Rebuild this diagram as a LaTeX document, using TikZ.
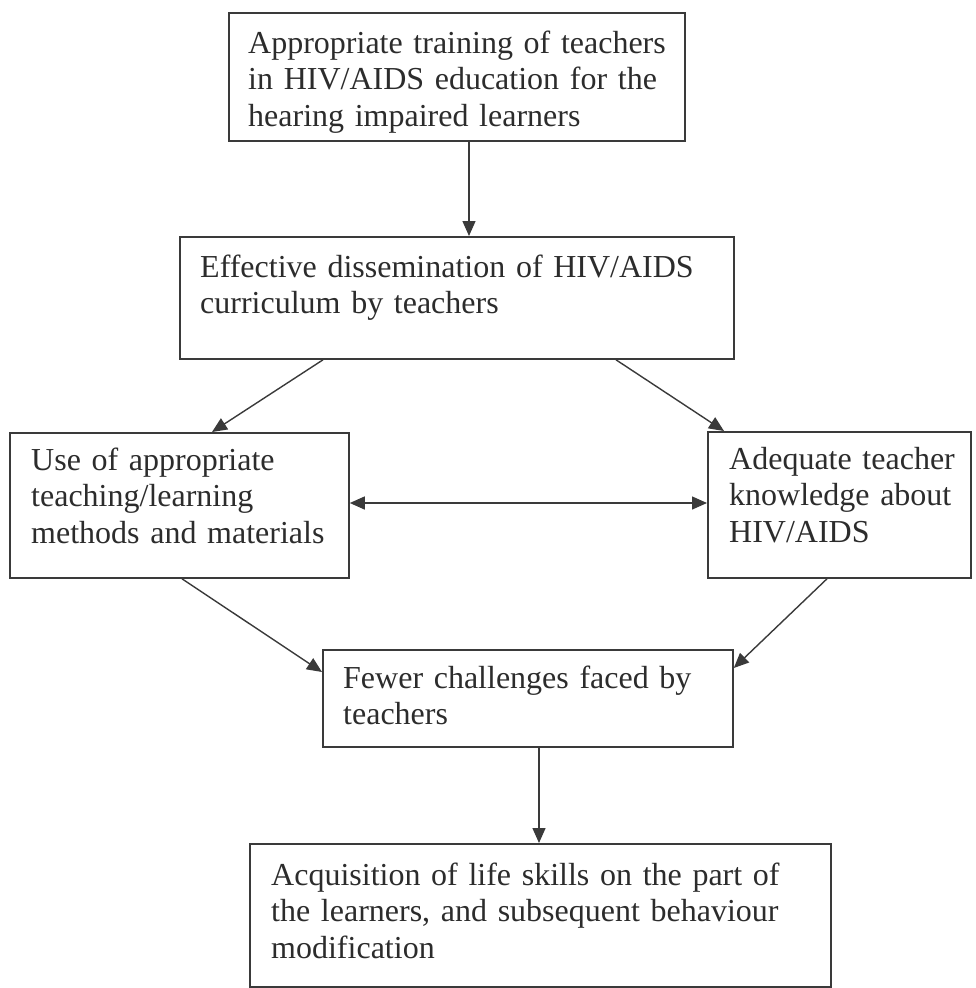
\documentclass[tikz,border=0pt]{standalone}
\usepackage{fontspec}
\setmainfont{Liberation Serif}[WordSpace=0.8]
\usetikzlibrary{arrows.meta,calc}
\definecolor{ink}{HTML}{2C2C2C}
\definecolor{linec}{HTML}{3A3A3A}
\begin{document}
\begin{tikzpicture}[x=1pt,y=-1pt,
  box/.style={draw=linec, line width=1.8pt, rectangle, inner sep=0pt, anchor=north west},
  txt/.style={anchor=base west, inner sep=0pt, text width=620pt, align=left, text=ink, font=\fontsize{32}{36.6}\selectfont},
  arr/.style={draw=linec, line width=1.4pt, -{Triangle[length=15pt,width=13pt]}},
  darr/.style={draw=linec, line width=1.4pt, {Triangle[length=15pt,width=13pt]}-{Triangle[length=15pt,width=13pt]}}]
\useasboundingbox (0,0) rectangle (975,988);
% boxes
\node[box, minimum width=456pt, minimum height=128pt] (b1) at (228,12) {};
\node[box, minimum width=554pt, minimum height=122pt] (b2) at (179,236) {};
\node[box, minimum width=339pt, minimum height=145pt] (b3) at (9,432) {};
\node[box, minimum width=263pt, minimum height=146pt] (b4) at (707,431) {};
\node[box, minimum width=410pt, minimum height=97pt] (b5) at (322,649) {};
\node[box, minimum width=581pt, minimum height=143pt] (b6) at (249,843) {};
% texts
\node[txt] (t1) at ([xshift=20pt,yshift=-41pt]b1.north west) {Appropriate training of teachers\\in HIV/AIDS education for the\\hearing impaired learners};
\node[txt] (t2) at ([xshift=21pt,yshift=-41pt]b2.north west) {Effective dissemination of HIV/AIDS\\curriculum by teachers};
\node[txt] (t3) at ([xshift=22pt,yshift=-38pt]b3.north west) {Use of appropriate\\teaching/learning\\methods and materials};
\node[txt] (t4) at ([xshift=22pt,yshift=-38pt]b4.north west) {Adequate teacher\\knowledge about\\HIV/AIDS};
\node[txt] (t5) at ([xshift=21pt,yshift=-39pt]b5.north west) {Fewer challenges faced by\\teachers};
\node[txt] (t6) at ([xshift=22pt,yshift=-42pt]b6.north west) {Acquisition of life skills on the part of\\the learners, and subsequent behaviour\\modification};
% guide coordinates
\coordinate (k1) at (469,0);
\coordinate (k2) at (0,503);
\coordinate (k3) at (539,0);
% connectors
\draw[arr] (b1.south -| k1) -- (b2.north -| k1);
\draw[arr] ([xshift=144pt]b2.south west) -- ([xshift=203pt]b3.north west);
\draw[arr] ([xshift=437pt]b2.south west) -- ([xshift=17pt]b4.north west);
\draw[darr] (b3.east |- k2) -- (b4.west |- k2);
\draw[arr] ([xshift=173pt]b3.south west) -- ([yshift=-23pt]b5.north west);
\draw[arr] ([xshift=120pt]b4.south west) -- ([yshift=-19pt]b5.north east);
\draw[arr] (b5.south -| k3) -- (b6.north -| k3);
\end{tikzpicture}
\end{document}
